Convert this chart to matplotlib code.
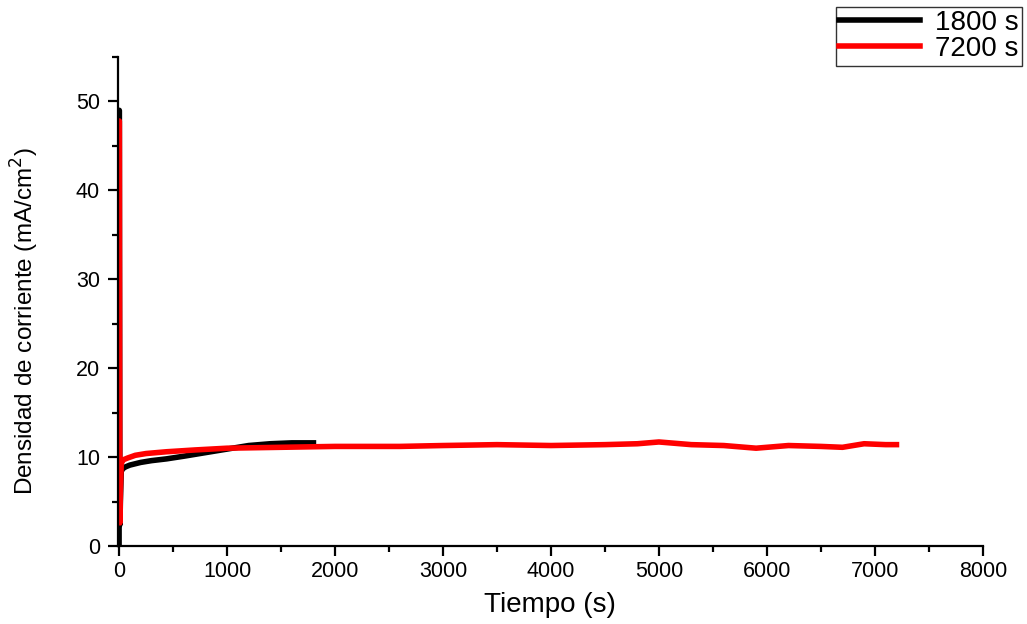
import matplotlib
matplotlib.use("Agg")
import matplotlib.pyplot as plt
from matplotlib.ticker import MultipleLocator

# serie 1800 s (negro)
t_1800 = [0, 2, 4, 6, 8, 12, 20, 35, 60, 100, 200, 300, 440, 600, 800, 1000, 1200, 1400, 1600, 1700, 1800]
j_1800 = [0.3, 49.0, 30.0, 12.0, 2.4, 5.0, 8.4, 8.7, 8.9, 9.1, 9.4, 9.6, 9.8, 10.1, 10.5, 10.9, 11.3, 11.5, 11.6, 11.6, 11.6]

# serie 7200 s (rojo)
t_7200 = [0, 2, 4, 6, 8, 12, 20, 40, 80, 150, 250, 440, 700, 1000, 1500, 2000, 2600, 3000, 3500,
          4000, 4500, 4800, 5000, 5100, 5300, 5600, 5900, 6200, 6500, 6700, 6900, 7100, 7200]
j_7200 = [2.8, 47.8, 30.0, 10.0, 2.6, 6.0, 9.3, 9.7, 9.9, 10.2, 10.4, 10.6, 10.8, 11.0, 11.1, 11.2, 11.2, 11.3, 11.4,
          11.3, 11.4, 11.5, 11.7, 11.6, 11.4, 11.3, 11.0, 11.3, 11.2, 11.1, 11.5, 11.4, 11.4]

plt.rcParams["font.family"] = ["Liberation Sans", "DejaVu Sans"]

fig = plt.figure(figsize=(10.27, 6.24), dpi=100)
ax = fig.add_axes([0.1149, 0.125, 0.8421, 0.7837])

ax.plot(t_1800, j_1800, color="black", lw=4, label="1800 s")
ax.plot(t_7200, j_7200, color="#ff0000", lw=4, label="7200 s")

ax.set_xlim(-10, 8000)
ax.set_ylim(0, 55)
ax.xaxis.set_major_locator(MultipleLocator(1000))
ax.xaxis.set_minor_locator(MultipleLocator(500))
ax.yaxis.set_major_locator(MultipleLocator(10))
ax.yaxis.set_minor_locator(MultipleLocator(5))

for s in ["top", "right"]:
    ax.spines[s].set_visible(False)
for s in ["left", "bottom"]:
    ax.spines[s].set_linewidth(1.6)
ax.tick_params(which="major", direction="out", length=7, width=1.6, labelsize=15.5)
ax.tick_params(which="minor", direction="out", length=4, width=1.6)
ax.tick_params(axis="y", which="major", pad=6)

ax.set_xlabel("Tiempo (s)", fontsize=20)
ax.xaxis.set_label_coords(0.5, -0.095)
ax.set_ylabel("Densidad de corriente (mA/cm$^2$)", fontsize=17.5)
ax.yaxis.set_label_coords(-0.089, 0.46)

leg = fig.legend(loc="upper right", bbox_to_anchor=(0.995, 0.989), fontsize=20,
                 frameon=True, fancybox=False, handlelength=2.9, borderpad=0.12,
                 labelspacing=0.0, handletextpad=0.55, borderaxespad=0)
leg.get_frame().set_edgecolor("black")
leg.get_frame().set_linewidth(1.0)

fig.savefig("out.png", dpi=100)
